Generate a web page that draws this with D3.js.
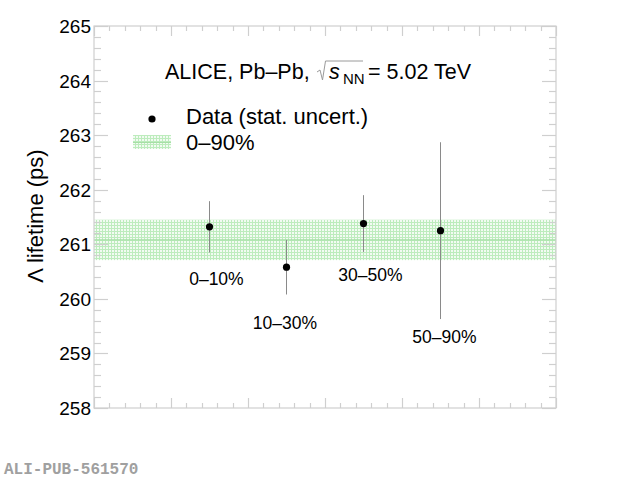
<!DOCTYPE html>
<html><head><meta charset="utf-8">
<script src="https://cdn.jsdelivr.net/npm/d3@7"></script>
<style>
html,body{margin:0;padding:0;background:#fff;}
svg{display:block;font-family:"Liberation Sans",Arial,sans-serif;}
</style></head>
<body>
<svg id="c" width="620" height="482"></svg>
<script>
// ---- data ----
const categories = ["0\u201310%", "10\u201330%", "30\u201350%", "50\u201390%"];
const xPos = [1.5, 2.5, 3.5, 4.5];
const lifetime = [261.32, 260.58, 261.38, 261.25];
const statErr = [0.47, 0.50, 0.52, 1.62];
const labelX = [1.59, 2.48, 3.59, 4.55];
const labelY = [260.26, 259.45, 260.33, 259.19];
const bandValue = [261.08];
const bandErr = [0.37];
const yTicks = [258, 259, 260, 261, 262, 263, 264, 265];
const xDomain = [0, 6];
const yDomain = [258, 265];

const svg = d3.select("#c");
const L = 94, R = 556, T = 26, B = 408;
const x = d3.scaleLinear().domain(xDomain).range([L, R]);
const y = d3.scaleLinear().domain(yDomain).range([B, T]);

// pattern for band
const defs = svg.append("defs");
const pat = defs.append("pattern").attr("id", "hatch").attr("patternUnits", "userSpaceOnUse")
  .attr("width", 3).attr("height", 3);
pat.append("rect").attr("width", 3).attr("height", 3).attr("fill", "#f2fbf2");
pat.append("rect").attr("x", 0).attr("y", 0).attr("width", 3).attr("height", 1).attr("fill", "#bdecbd");
pat.append("rect").attr("x", 0).attr("y", 0).attr("width", 1).attr("height", 3).attr("fill", "#bdecbd");

// band
svg.append("rect")
  .attr("x", x(xDomain[0])).attr("width", x(xDomain[1]) - x(xDomain[0]))
  .attr("y", y(bandValue[0] + bandErr[0]))
  .attr("height", y(bandValue[0] - bandErr[0]) - y(bandValue[0] + bandErr[0]))
  .attr("fill", "url(#hatch)");
svg.append("line")
  .attr("x1", x(xDomain[0])).attr("x2", x(xDomain[1]))
  .attr("y1", y(bandValue[0])).attr("y2", y(bandValue[0]))
  .attr("stroke", "#a6dfa6").attr("stroke-width", 1.2);

// frame
const axCol = "#cfcfcf";
svg.append("rect").attr("x", L).attr("y", T).attr("width", R - L).attr("height", B - T)
  .attr("fill", "none").attr("stroke", axCol).attr("stroke-width", 1.2);

// y ticks (left & right)
const yMinor = d3.range(yDomain[0], yDomain[1] + 0.001, 0.2);
yMinor.forEach(v => {
  const major = Math.abs(v - Math.round(v)) < 1e-6;
  const len = major ? 14 : 7;
  const yy = Math.round(y(v)) + 0.5;
  svg.append("line").attr("x1", L).attr("x2", L + len).attr("y1", yy).attr("y2", yy)
    .attr("stroke", axCol).attr("stroke-width", 1.2);
  svg.append("line").attr("x1", R - len).attr("x2", R).attr("y1", yy).attr("y2", yy)
    .attr("stroke", axCol).attr("stroke-width", 1.2);
});
// x ticks (bottom & top)
const xMinor = d3.range(xDomain[0], xDomain[1] + 0.001, 0.2);
xMinor.forEach(v => {
  const major = Math.abs(v - Math.round(v)) < 1e-6;
  const len = major ? 10 : 5;
  const xx = Math.round(x(v)) + 0.5;
  svg.append("line").attr("x1", xx).attr("x2", xx).attr("y1", B).attr("y2", B - len)
    .attr("stroke", axCol).attr("stroke-width", 1.2);
  svg.append("line").attr("x1", xx).attr("x2", xx).attr("y1", T).attr("y2", T + len)
    .attr("stroke", axCol).attr("stroke-width", 1.2);
});

// y tick labels
svg.append("g").selectAll("text").data(yTicks).join("text")
  .attr("x", 91).attr("y", d => y(d) + 7)
  .attr("text-anchor", "end").attr("font-size", 19).attr("fill", "#000")
  .text(d => d);

// y title
svg.append("text")
  .attr("transform", "translate(43,216) rotate(-90)")
  .attr("text-anchor", "middle").attr("font-size", 22).attr("fill", "#000")
  .text("\u039B lifetime (ps)");

// error bars
svg.append("g").selectAll("line").data(lifetime).join("line")
  .attr("x1", (d, i) => x(xPos[i])).attr("x2", (d, i) => x(xPos[i]))
  .attr("y1", (d, i) => y(d + statErr[i])).attr("y2", (d, i) => y(d - statErr[i]))
  .attr("stroke", "#8a8a8a").attr("stroke-width", 1);
// points
svg.append("g").selectAll("circle").data(lifetime).join("circle")
  .attr("cx", (d, i) => x(xPos[i])).attr("cy", d => y(d)).attr("r", 3.6)
  .attr("fill", "#000");
// category labels
svg.append("g").selectAll("text").data(categories).join("text")
  .attr("x", (d, i) => x(labelX[i])).attr("y", (d, i) => y(labelY[i]))
  .attr("text-anchor", "middle").attr("font-size", 17.5).attr("fill", "#000")
  .text(d => d);

// header
const hdr = svg.append("g");
hdr.append("text").attr("x", 165).attr("y", 79).attr("font-size", 21.5).text("ALICE, Pb\u2013Pb,");
hdr.append("path").attr("d", "M317,72 L320,70 L322.5,80 L325.5,61 L363,61")
  .attr("fill", "none").attr("stroke", "#9a9a9a").attr("stroke-width", 1);
hdr.append("text").attr("x", 329).attr("y", 79).attr("font-size", 21.5).attr("font-style", "italic").text("s");
hdr.append("text").attr("x", 343).attr("y", 84).attr("font-size", 15).text("NN");
hdr.append("text").attr("x", 368).attr("y", 79).attr("font-size", 21.5).text("= 5.02 TeV");

// legend
svg.append("circle").attr("cx", 152).attr("cy", 119).attr("r", 3.6).attr("fill", "#000");
svg.append("text").attr("x", 186).attr("y", 124).attr("font-size", 22).text("Data (stat. uncert.)");
svg.append("rect").attr("x", 133).attr("y", 135).attr("width", 38).attr("height", 14).attr("fill", "url(#hatch)");
svg.append("line").attr("x1", 133).attr("x2", 171).attr("y1", 142.5).attr("y2", 142.5)
  .attr("stroke", "#a6dfa6").attr("stroke-width", 1.2);
svg.append("text").attr("x", 186).attr("y", 150).attr("font-size", 22).text("0\u201390%");

// watermark
svg.append("text").attr("x", 4).attr("y", 474).attr("font-size", 16)
  .attr("font-family", "'Liberation Mono','DejaVu Sans Mono',monospace").attr("font-weight", "bold")
  .attr("fill", "#a0a0a0").text("ALI-PUB-561570");
</script>
</body></html>
